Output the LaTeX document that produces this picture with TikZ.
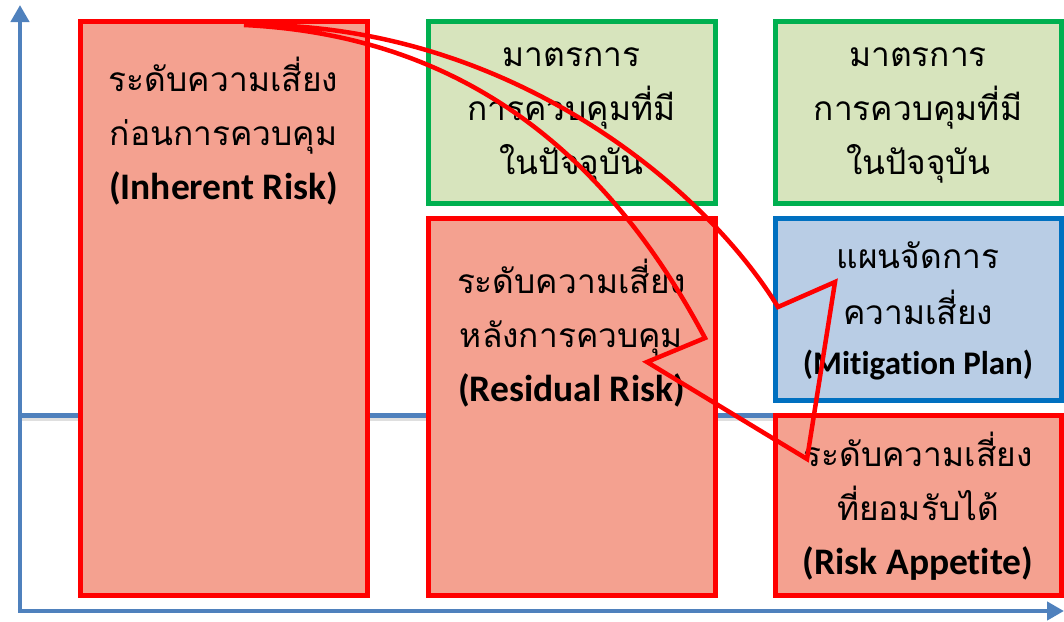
\documentclass[tikz,border=0pt]{standalone}
\usepackage{fontspec}
\setmainfont{Carlito}[Ligatures=NoCommon]
\newfontfamily\thai[Script=Thai]{Loma}
\usetikzlibrary{arrows.meta}
\definecolor{boxred}{HTML}{FF0000}
\definecolor{salmon}{HTML}{F4A190}
\definecolor{grnline}{HTML}{00B050}
\definecolor{grnfill}{HTML}{D7E4BD}
\definecolor{bluline}{HTML}{0070C0}
\definecolor{blufill}{HTML}{B9CDE5}
\definecolor{axisblue}{HTML}{4F81BD}
\newcommand{\eng}[2][37.5]{{\rmfamily\fontsize{#1}{54}\selectfont\bfseries #2}}
\begin{document}
\begin{tikzpicture}[x=1pt,y=-1pt,
  boxbase/.style={rectangle, line width=5pt, outer sep=0pt, inner sep=0pt},
  redbox/.style={boxbase, draw=boxred, fill=salmon},
  greenbox/.style={boxbase, draw=grnline, fill=grnfill},
  bluebox/.style={boxbase, draw=bluline, fill=blufill},
  txt/.style={align=center, font=\fontsize{33.5}{54}\selectfont\thai, inner sep=0pt, anchor=north},
  axisline/.style={draw=axisblue, line width=4.5pt, -{Triangle[length=17pt,width=18pt]}},
  flow/.style={draw=boxred, line width=4.5pt, line join=miter}]
\useasboundingbox (0,0) rectangle (1064,621);
% axes
\coordinate (origin) at (20,611);
\coordinate (ytip) at (20,5);
\coordinate (xtip) at (1064,611);
\coordinate (lvlA) at (20,415);
\coordinate (lvlB) at (775,415);
\draw[gray!25, line width=4pt] ([yshift=-4pt]lvlA) -- ([yshift=-4pt]lvlB);
\draw[axisblue, line width=5pt] (lvlA) -- (lvlB);
\draw[axisline] (origin) -- (ytip);
\draw[axisline] ([xshift=-2.25pt]origin) -- (xtip);
% boxes
\node[redbox, minimum width=287, minimum height=574] (inh) at (223.5,308.5) {};
\node[greenbox, minimum width=287, minimum height=182] (ctl1) at (571.5,112) {};
\node[redbox, minimum width=287, minimum height=377] (res) at (571.5,406.5) {};
\node[greenbox, minimum width=286, minimum height=182] (ctl2) at (918,112) {};
\node[bluebox, minimum width=286, minimum height=182] (mit) at (918,309) {};
\node[redbox, minimum width=286, minimum height=180] (app) at (918,505.5) {};
% texts
\node[txt] (tinh) at (223.5,57) {ระดับความเสี่ยง\\ก่อนการควบคุม\\\eng{(Inherent Risk)}};
\node[txt] (tctl1) at (571.5,47) {มาตรการ\\การควบคุมที่มี\\ในปัจจุบัน};
\node[txt] (tres) at (571.5,259) {ระดับความเสี่ยง\\หลังการควบคุม\\\eng{(Residual Risk)}};
\node[txt] (tctl2) at (918,47) {มาตรการ\\การควบคุมที่มี\\ในปัจจุบัน};
\node[txt] (tmit) at (918,242) {แผนจัดการ\\[2pt]ความเสี่ยง\\[-4pt]\eng[33]{(Mitigation Plan)}};
\node[txt] (tapp) at (918,432) {ระดับความเสี่ยง\\ที่ยอมรับได้\\\eng{(Risk Appetite)}};
% red flow shape
\coordinate (s) at (244,25);
\coordinate (o1) at (778,307);
\coordinate (o2) at (835,282);
\coordinate (tip) at (807,459);
\coordinate (i2) at (647,362);
\coordinate (i1) at (705,338);
\draw[flow] (s) .. controls (500,21) and (700,180) .. (o1) -- (o2) -- (tip) -- (i2) -- (i1) .. controls (600,140) and (450,35) .. (s);
\end{tikzpicture}
\end{document}
